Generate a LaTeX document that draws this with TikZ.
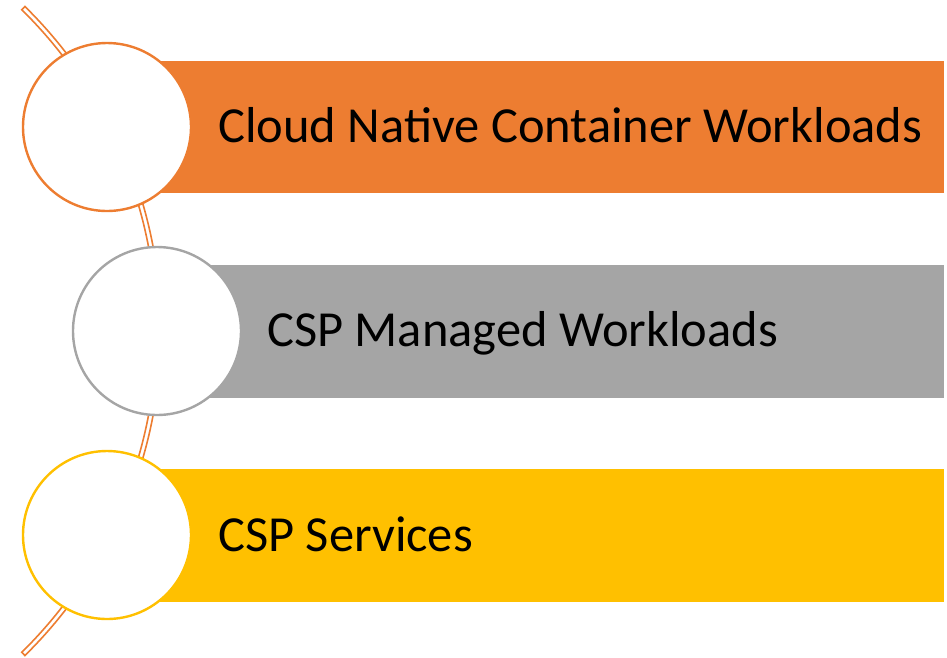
\documentclass[tikz,border=0pt]{standalone}
\usepackage{fontspec}
\setmainfont{Carlito}
\definecolor{accOrange}{HTML}{ED7D31}
\definecolor{accGray}{HTML}{A5A5A5}
\definecolor{accGold}{HTML}{FFC000}
\begin{document}
\begin{tikzpicture}[x=1pt,y=-1pt,
  bar/.style={fill=#1, draw=none},
  ring/.style={circle, draw=#1, line width=2.4pt, fill=white, minimum size=168pt, inner sep=0pt},
  label/.style={anchor=base west, font=\fontsize{50.5}{58}\selectfont, text=black, inner sep=0pt}]
  \useasboundingbox (0,0) rectangle (947,657);

  % curved spine behind the circles (outlined band)
  \coordinate (spineC) at (-294,331);
  \draw[accOrange, line width=1.6pt, fill=white]
    ([shift={(-45.5:455pt)}]spineC) arc[start angle=-45.5, end angle=45.5, radius=455pt]
    -- ([shift={(45.5:450.5pt)}]spineC) arc[start angle=45.5, end angle=-45.5, radius=450.5pt]
    -- cycle;

  % coloured bars
  \fill[accOrange] (107,60.5) rectangle (944,193);
  \fill[accGray] (157,265) rectangle (944,398);
  \fill[accGold] (107,469) rectangle (944,602);

  % circles
  \node[ring=accOrange] (c1) at (107,127) {};
  \node[ring=accGray] (c2) at (157,331) {};
  \node[ring=accGold] (c3) at (107,535) {};

  % labels
  \node[label] (t1) at (218,142) {Cloud Native Container Workloads};
  \node[label] (t2) at (267,346) {CSP Managed Workloads};
  \node[label] (t3) at (218,551) {CSP Services};
\end{tikzpicture}
\end{document}
